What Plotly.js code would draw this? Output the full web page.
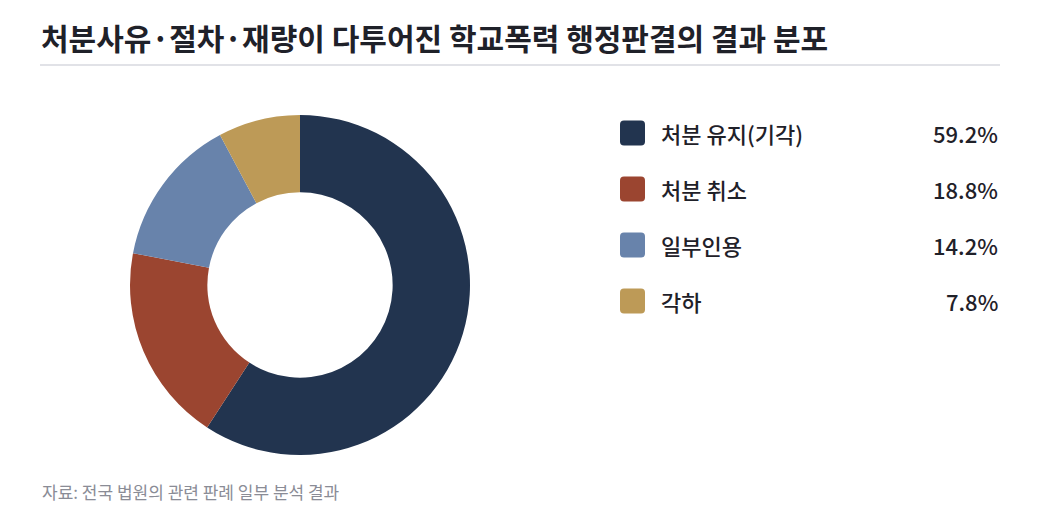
<!DOCTYPE html>
<html>
<head>
<meta charset="utf-8">
<script src="https://cdn.plot.ly/plotly-3.0.1.min.js"></script>
<style>
  body { margin: 0; background: #fff; }
  #chart { width: 1040px; height: 525px; }
</style>
</head>
<body>
<div id="chart"></div>
<script>
const labels = ["처분 유지(기각)", "처분 취소", "일부인용", "각하"];
const shares = [59.2, 18.8, 14.2, 7.8];
const colors = ["#22344f", "#9b4530", "#6883ab", "#bd9a57"];

const W = 1040, H = 525;
const font = "'Noto Sans CJK KR', 'Noto Sans', sans-serif";

// pixel helpers -> paper coords
const px = (x) => x / W;
const py = (y) => 1 - y / H;

const donut = {
  type: "pie",
  labels: labels,
  values: shares,
  hole: 0.545,
  sort: false,
  direction: "clockwise",
  rotation: 0,
  marker: { colors: colors, line: { width: 0 } },
  textinfo: "none",
  hoverinfo: "label+percent",
  showlegend: false,
  domain: { x: [px(130), px(470)], y: [py(455), py(115)] },
};

const annotations = [
  {
    text: "<b>처분사유·절차·재량이 다투어진 학교폭력 행정판결의 결과 분포</b>",
    xref: "paper", yref: "paper", x: px(39), y: py(37),
    xanchor: "left", yanchor: "middle", showarrow: false,
    font: { family: font, size: 30, color: "#1f2129" },
  },
  {
    text: "자료: 전국 법원의 관련 판례 일부 분석 결과",
    xref: "paper", yref: "paper", x: px(40), y: py(491),
    xanchor: "left", yanchor: "middle", showarrow: false,
    font: { family: font, size: 17, color: "#8a8c96" },
  },
];

const shapes = [
  {
    type: "line", xref: "paper", yref: "paper",
    x0: px(40), x1: px(1000), y0: py(65), y1: py(65),
    line: { color: "#e1e2e7", width: 2 },
  },
];

// custom legend rows
labels.forEach((lab, i) => {
  const cy = 133 + i * 56;
  const x0 = 620, x1 = 645, y0 = cy - 12.5, y1 = cy + 12.5, r = 4;
  shapes.push({
    type: "path", xref: "paper", yref: "paper",
    path:
      `M ${px(x0 + r)} ${py(y0)} L ${px(x1 - r)} ${py(y0)} Q ${px(x1)} ${py(y0)} ${px(x1)} ${py(y0 + r)} ` +
      `L ${px(x1)} ${py(y1 - r)} Q ${px(x1)} ${py(y1)} ${px(x1 - r)} ${py(y1)} ` +
      `L ${px(x0 + r)} ${py(y1)} Q ${px(x0)} ${py(y1)} ${px(x0)} ${py(y1 - r)} ` +
      `L ${px(x0)} ${py(y0 + r)} Q ${px(x0)} ${py(y0)} ${px(x0 + r)} ${py(y0)} Z`,
    fillcolor: colors[i], line: { width: 0 },
  });
  annotations.push({
    text: lab, xref: "paper", yref: "paper", x: px(659), y: py(cy),
    xanchor: "left", yanchor: "middle", showarrow: false,
    font: { family: font, size: 22, weight: 500, color: "#1f2129" },
  });
  annotations.push({
    text: shares[i].toFixed(1) + "%", xref: "paper", yref: "paper", x: px(1000), y: py(cy),
    xanchor: "right", yanchor: "middle", showarrow: false,
    font: { family: font, size: 22, weight: 500, color: "#1f2129" },
  });
});

const layout = {
  width: W,
  height: H,
  margin: { l: 0, r: 0, t: 0, b: 0 },
  paper_bgcolor: "#ffffff",
  font: { family: font },
  annotations: annotations,
  shapes: shapes,
};

Plotly.newPlot("chart", [donut], layout, { displayModeBar: false, staticPlot: true });
</script>
</body>
</html>
